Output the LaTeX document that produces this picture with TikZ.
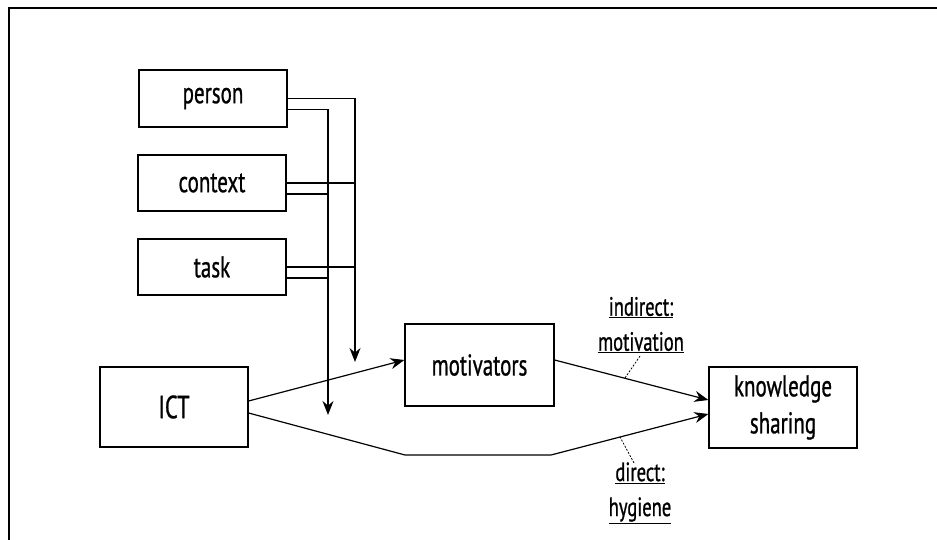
\documentclass[tikz,border=0pt]{standalone}
\usepackage{fontspec}
\setmainfont{PT Sans}[FakeStretch=0.70,FakeBold=0.8]
\usetikzlibrary{arrows.meta}
\begin{document}
\begin{tikzpicture}[x=1pt,y=-1pt,
  box/.style={draw,line width=1.2pt,minimum width=148pt,inner sep=0pt,
    font=\fontsize{30}{37}\selectfont,align=center},
  link/.style={line width=1.2pt},
  arr/.style={link,-{Stealth[length=14pt,width=11pt]}},
  lbl/.style={font=\fontsize{26.5}{35}\selectfont,align=center,inner sep=0pt},
  pointer/.style={line width=0.8pt,dash pattern=on 2pt off 1.5pt}]
\useasboundingbox (0,0) rectangle (937,540);
% frame
\draw[line width=1.2pt] (9,540) -- (9,8) -- (937,8);
% boxes
\node[box,minimum height=57pt] (person) at (213,98.5) {person};
\node[box,minimum height=56pt] (context) at (212,183) {context};
\node[box,minimum height=56pt] (task) at (212,267) {task};
\node[box,minimum height=80pt,font=\fontsize{32}{34}\selectfont] (ict) at (174,407) {ICT};
\node[box,minimum width=149pt,minimum height=82pt] (mot) at (479.5,365) {motivators};
\node[box,minimum height=81pt] (ks) at (783,407.5) {knowledge\\sharing};
% arrow tips of the two collecting lines
\coordinate (tipR) at (355,362);
\coordinate (tipL) at (328,415);
% person, context and task feed both collecting lines
\draw[arr] (person.east) -| (tipR);
\draw[arr] ([yshift=-11pt]person.east) -| (tipL);
\draw[link] (context.east) -- (context.east -| tipR);
\draw[link] ([yshift=-11pt]context.east) -- ([yshift=-11pt]context.east -| tipL);
\draw[link] (task.east) -- (task.east -| tipR);
\draw[link] ([yshift=-11pt]task.east) -- ([yshift=-11pt]task.east -| tipL);
% main paths
\coordinate (b1) at (405,455);
\coordinate (b2) at (551,455);
\draw[arr] ([yshift=6pt]ict.east) -- ([yshift=5pt]mot.west);
\draw[arr] ([yshift=5pt]mot.east) -- ([yshift=7.5pt]ks.west);
\draw[arr] ([yshift=-6pt]ict.east) -- (b1) -- (b2) -- ([yshift=-6.5pt]ks.west);
% path labels
\node[lbl] (l1) at (641,325) {\underline{indirect:}\\\underline{motivation}};
\node[lbl] (l2) at (640,493) {\underline{direct:}\\\underline{hygiene}};
\coordinate (p1) at (625,378);
\coordinate (p2) at (620,437);
\draw[pointer] (640,356) -- (p1);
\draw[pointer] (634,463) -- (p2);
\end{tikzpicture}
\end{document}
